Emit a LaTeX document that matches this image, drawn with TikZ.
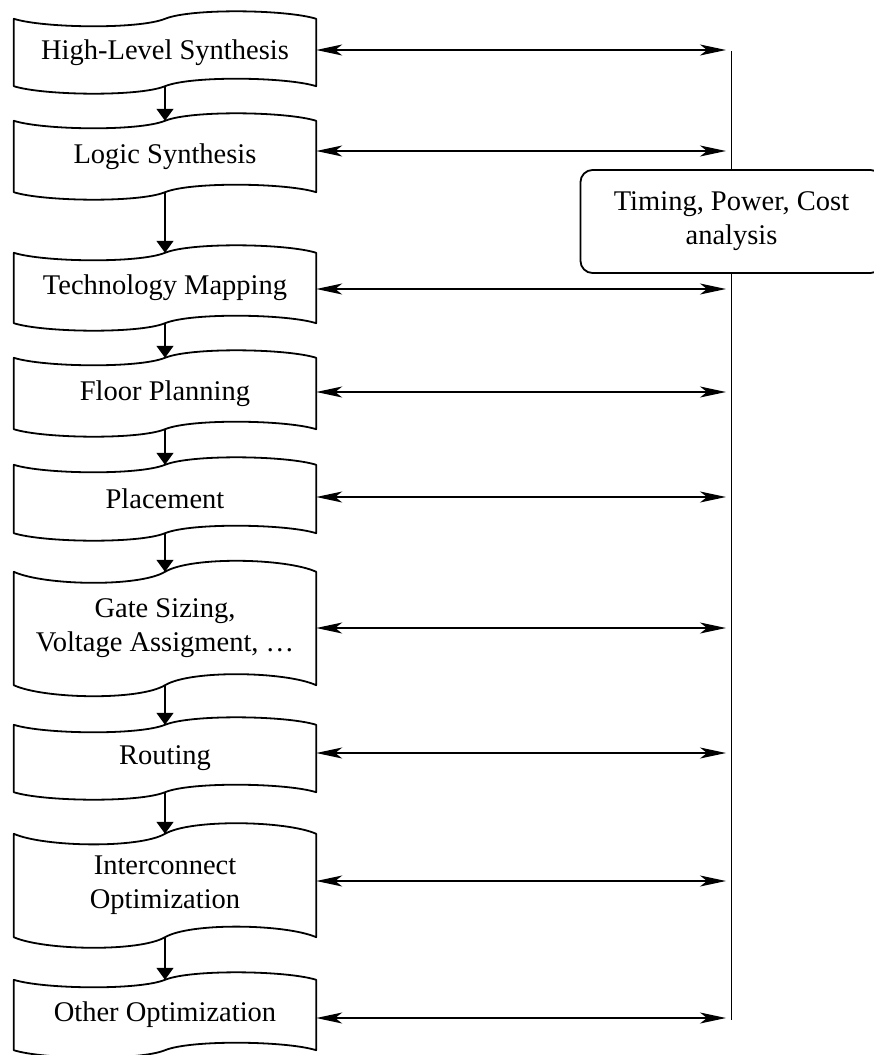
\documentclass[tikz,border=0pt]{standalone}
\usepackage{fontspec}
\setmainfont{Liberation Serif}
\usetikzlibrary{arrows.meta}
\tikzset{
  boxnode/.style={draw=none, inner sep=0pt, minimum width=302pt, align=center,
    font=\fontsize{28.5}{34}\selectfont},
  boxline/.style={line width=1.8pt, line join=round},
  anabox/.style={draw, line width=1.8pt, rounded corners=12pt, fill=white,
    minimum width=302pt, minimum height=103pt, inner sep=0pt, align=center,
    font=\fontsize{28.5}{34}\selectfont},
  varrow/.style={line width=1.4pt, -{Triangle[length=12pt,width=17pt]}},
  harrow/.style={line width=1.4pt, {Stealth[length=26pt,width=11pt,inset=7pt]}-{Stealth[length=26pt,width=11pt,inset=7pt]}},
  vline/.style={line width=1.6pt}
}
\newcommand{\wavyoutline}[2]{%
  \draw[boxline] (#1.north west)
    .. controls ([shift={(30pt,{-1.1*#2pt})}]#1.north west) and ([shift={(125pt,{-1.25*#2pt})}]#1.north west) .. (#1.north)
    .. controls ([shift={(26pt,{1.25*#2pt})}]#1.north) and ([shift={(-30pt,{1.1*#2pt})}]#1.north east) .. (#1.north east)
    -- (#1.south east)
    .. controls ([shift={(-30pt,{1.1*#2pt})}]#1.south east) and ([shift={(26pt,{1.25*#2pt})}]#1.south) .. (#1.south)
    .. controls ([shift={(-26pt,{-1.25*#2pt})}]#1.south) and ([shift={(30pt,{-1.1*#2pt})}]#1.south west) .. (#1.south west)
    -- cycle;}
\begin{document}
\begin{tikzpicture}[x=1pt,y=-1pt]
\useasboundingbox (0,0) rectangle (873,1055);
% boxes
\node[boxnode, minimum height=67pt]  (b1) at (165,52.5)  {High-Level Synthesis};
\node[boxnode, minimum height=71pt]  (b2) at (165,156.5) {Logic Synthesis};
\node[boxnode, minimum height=70pt]  (b3) at (165,288)   {Technology Mapping};
\node[boxnode, minimum height=71pt]  (b4) at (165,393.5) {Floor Planning};
\node[boxnode, minimum height=68pt]  (b5) at (165,499)   {Placement};
\node[boxnode, minimum height=113pt] (b6) at (165,628.5) {Gate Sizing,\\Voltage Assigment, …};
\node[boxnode, minimum height=67pt]  (b7) at (165,758.5) {Routing};
\node[boxnode, minimum height=103pt] (b8) at (165,885.5) {Interconnect\\Optimization};
\node[boxnode, minimum height=70pt]  (b9) at (165,1015)  {Other Optimization};
\wavyoutline{b1}{8.5}
\wavyoutline{b2}{8.5}
\wavyoutline{b3}{8.5}
\wavyoutline{b4}{8.5}
\wavyoutline{b5}{8.5}
\wavyoutline{b6}{12.5}
\wavyoutline{b7}{8.5}
\wavyoutline{b8}{12}
\wavyoutline{b9}{8.5}
% vertical flow arrows
\draw[varrow] (b1.south) -- (b2.north);
\draw[varrow] (b2.south) -- (b3.north);
\draw[varrow] (b3.south) -- (b4.north);
\draw[varrow] (b4.south) -- (b5.north);
\draw[varrow] (b5.south) -- (b6.north);
\draw[varrow] (b6.south) -- (b7.north);
\draw[varrow] (b7.south) -- (b8.north);
\draw[varrow] (b8.south) -- (b9.north);
% analysis bus
\coordinate (ltop) at (731.5,51);
\coordinate (lbot) at (731.5,1020);
\node[anabox] (ana) at (731.5,221.5) {Timing, Power, Cost\\analysis};
\draw[vline] (ltop) -- (ana.north);
\draw[vline] (ana.south) -- (lbot);
% horizontal arrows
\coordinate (r1) at (726,50);
\coordinate (r2) at (726,151);
\coordinate (r3) at (726,289);
\coordinate (r4) at (726,392);
\coordinate (r5) at (726,497);
\coordinate (r6) at (726,628);
\coordinate (r7) at (726,753);
\coordinate (r8) at (726,881);
\coordinate (r9) at (726,1018);
\draw[harrow] (b1.east |- r1) -- (r1);
\draw[harrow] (b2.east |- r2) -- (r2);
\draw[harrow] (b3.east |- r3) -- (r3);
\draw[harrow] (b4.east |- r4) -- (r4);
\draw[harrow] (b5.east |- r5) -- (r5);
\draw[harrow] (b6.east |- r6) -- (r6);
\draw[harrow] (b7.east |- r7) -- (r7);
\draw[harrow] (b8.east |- r8) -- (r8);
\draw[harrow] (b9.east |- r9) -- (r9);
\end{tikzpicture}
\end{document}
